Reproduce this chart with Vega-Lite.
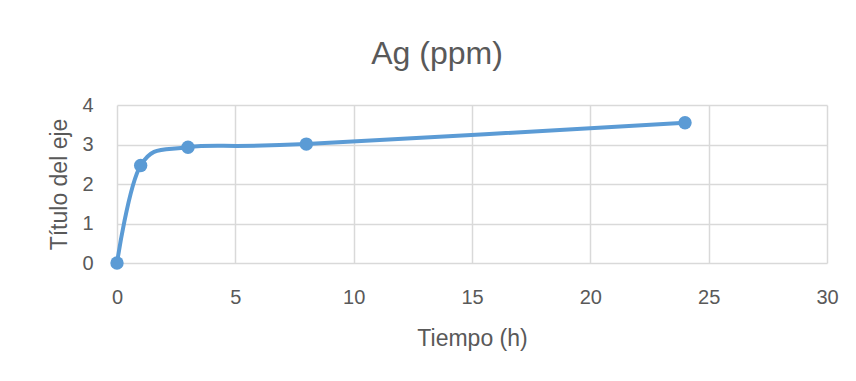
{
  "$schema": "https://vega.github.io/schema/vega-lite/v6.json",
  "autosize": {"type": "none"},
  "width": 710,
  "height": 158,
  "padding": {"left": 117, "top": 105, "right": 29, "bottom": 118},
  "background": "white",
  "title": {"text": "Ag (ppm)", "font": "Liberation Sans", "fontSize": 32, "fontWeight": "normal", "color": "#595959", "offset": 24, "dx": -35, "anchor": "middle"},
  "config": {
    "view": {"stroke": null},
    "axis": {
      "labelFont": "Liberation Sans", "labelFontSize": 20, "labelColor": "#595959",
      "titleFont": "Liberation Sans", "titleFontSize": 23, "titleFontWeight": "normal", "titleColor": "#595959",
      "gridColor": "#D9D9D9", "gridWidth": 1.5, "domain": false, "ticks": false
    }
  },
  "data": {"values": [
    {"t": 0, "ag": 0},
    {"t": 1, "ag": 2.47},
    {"t": 3, "ag": 2.93},
    {"t": 8, "ag": 3.01},
    {"t": 24, "ag": 3.55}
  ]},
  "encoding": {
    "x": {"field": "t", "type": "quantitative", "scale": {"domain": [0, 30], "nice": false, "zero": true},
      "axis": {"title": "Tiempo (h)", "values": [0, 5, 10, 15, 20, 25, 30], "labelPadding": 24, "titlePadding": 20, "labelFlush": false}},
    "y": {"field": "ag", "type": "quantitative", "scale": {"domain": [0, 4], "nice": false},
      "axis": {"title": "Título del eje", "values": [0, 1, 2, 3, 4], "labelPadding": 24, "titlePadding": 10, "labelFlush": false}}
  },
  "layer": [
    {"mark": {"type": "line", "interpolate": "cardinal", "color": "#5B9BD5", "strokeWidth": 4}},
    {"mark": {"type": "point", "filled": true, "opacity": 1, "color": "#5B9BD5", "size": 180, "shape": "circle"}}
  ]
}
